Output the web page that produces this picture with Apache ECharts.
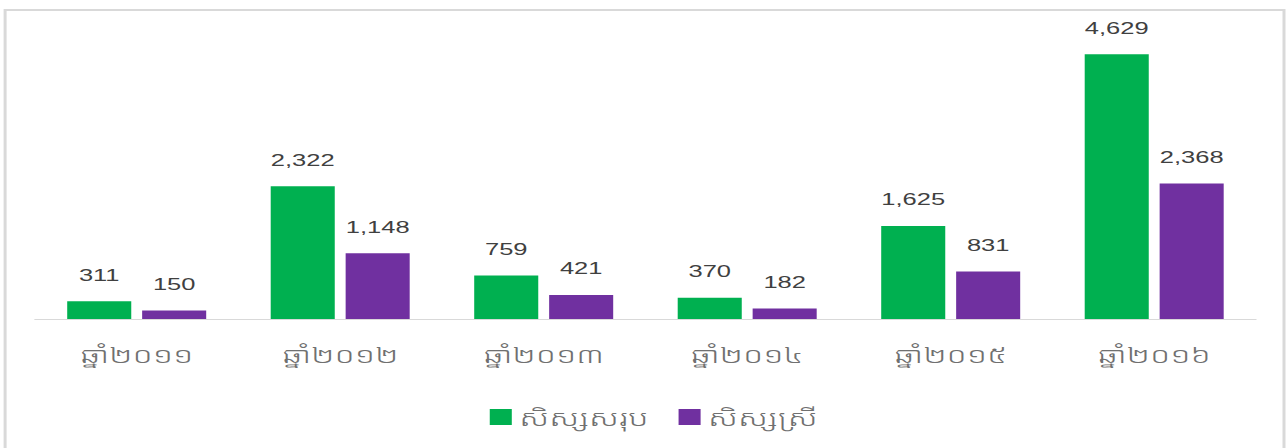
<!DOCTYPE html>
<html>
<head>
<meta charset="utf-8">
<script src="https://cdn.jsdelivr.net/npm/echarts@6/dist/echarts.min.js"></script>
<style>
  html, body { margin: 0; padding: 0; background: #fff; overflow: hidden; }
  /* The chart is laid out on a narrower canvas and widened 1.5x, giving its wide lettering */
  #chart { width: 858px; height: 448px; transform: scaleX(1.5); transform-origin: 0 0; }
</style>
</head>
<body>
<div id="chart"></div>
<script>
// Students by year: total and female
const years = ['ឆ្នាំ២០១១', 'ឆ្នាំ២០១២', 'ឆ្នាំ២០១៣', 'ឆ្នាំ២០១៤', 'ឆ្នាំ២០១៥', 'ឆ្នាំ២០១៦'];
const seriesNames = ['សិស្សសរុប', 'សិស្សស្រី'];
const totalStudents = [311, 2322, 759, 370, 1625, 4629];
const femaleStudents = [150, 1148, 421, 182, 831, 2368];

const khmerFont = '"Noto Sans Khmer", "Khmer OS", "DejaVu Sans", "Noto Sans", sans-serif';
const numFont = '"Liberation Sans", Arial, sans-serif';

const chart = echarts.init(document.getElementById('chart'), null, { renderer: 'svg' });

const valueLabel = {
  show: true,
  position: 'top',
  distance: 18,
  color: '#404040',
  fontSize: 17,
  fontFamily: numFont,
  formatter: p => p.value.toLocaleString('en-US')
};

chart.setOption({
  animation: false,
  backgroundColor: '#fff',
  graphic: [{
    type: 'rect',
    shape: { x: 3.4, y: 10, width: 852.6, height: 460 },
    style: { fill: 'none', stroke: '#d9d9d9', lineWidth: 2 },
    silent: true,
    z: -1
  }],
  grid: { left: 23.3, right: 20.7, top: 33, bottom: 129, containLabel: false },
  legend: {
    data: seriesNames,
    left: 321.5,
    top: 401,
    itemWidth: 14.7,
    itemHeight: 16,
    itemGap: 20,
    icon: 'rect',
    textStyle: { color: '#707070', fontSize: 22, fontWeight: 300, fontFamily: khmerFont }
  },
  xAxis: {
    type: 'category',
    data: years,
    axisLine: { lineStyle: { color: '#d9d9d9', width: 1 } },
    axisTick: { show: false },
    axisLabel: { color: '#707070', fontSize: 22, fontWeight: 300, margin: 24, fontFamily: khmerFont }
  },
  yAxis: {
    type: 'value',
    min: 0,
    max: 5000,
    show: false,
    splitLine: { show: false }
  },
  series: [
    {
      name: seriesNames[0],
      type: 'bar',
      data: totalStudents,
      barWidth: 42.7,
      barGap: '17%',
      itemStyle: { color: '#00B050' },
      label: valueLabel
    },
    {
      name: seriesNames[1],
      type: 'bar',
      data: femaleStudents,
      barWidth: 42.7,
      itemStyle: { color: '#7030A0' },
      label: valueLabel
    }
  ]
});
</script>
</body>
</html>
